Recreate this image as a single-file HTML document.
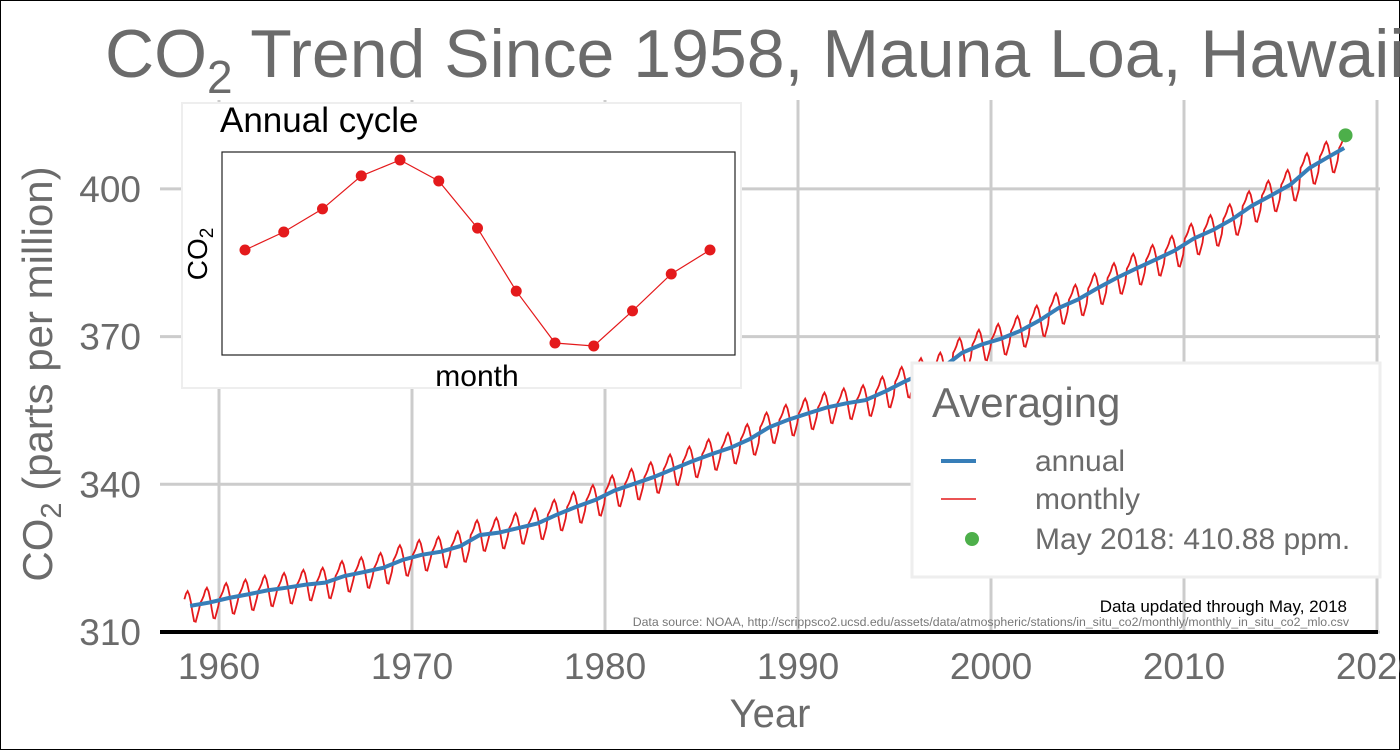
<!DOCTYPE html>
<html><head><meta charset="utf-8">
<style>
body{margin:0;background:#fff;}
svg{display:block;font-family:"Liberation Sans",Arial,sans-serif;}
</style></head>
<body>
<svg id="chart" width="1400" height="750" viewBox="0 0 1400 750">
<rect x="0.5" y="0.5" width="1399" height="749" fill="#fff" stroke="#000" stroke-width="1"/>
<g id="grid"></g>
<g id="series"></g>
<text x="105" y="77" font-size="68" fill="#6b6b6b">CO<tspan font-size="46" dy="16">2</tspan><tspan dy="-16"> Trend Since 1958, Mauna Loa, Hawaii</tspan></text>
<text transform="translate(52,374) rotate(-90)" text-anchor="middle" font-size="42" fill="#6b6b6b">CO<tspan font-size="29" dy="9">2</tspan><tspan dy="-9"> (parts per million)</tspan></text>
<text x="770" y="727" text-anchor="middle" font-size="40" fill="#6b6b6b">Year</text>
<g id="ticks"></g>
<text x="1347" y="612" text-anchor="end" font-size="17" fill="#000">Data updated through May, 2018</text>
<text x="1349" y="626" text-anchor="end" font-size="12.3" fill="#777">Data source: NOAA, http://scrippsco2.ucsd.edu/assets/data/atmospheric/stations/in_situ_co2/monthly/monthly_in_situ_co2_mlo.csv</text>
<line x1="160" y1="632" x2="1378" y2="632" stroke="#000" stroke-width="4"/>
<g>
<rect x="182" y="103" width="559" height="285" fill="#fff" stroke="#eee" stroke-width="2"/>
<text x="220" y="132" font-size="35" fill="#000">Annual cycle</text>
<rect x="222" y="152" width="513" height="203" fill="#fff" stroke="#222" stroke-width="1.2"/>
<text transform="translate(207,254) rotate(-90)" text-anchor="middle" font-size="28" fill="#000">CO<tspan font-size="19" dy="6">2</tspan></text>
<text x="477" y="386" text-anchor="middle" font-size="30" fill="#000">month</text>
<g id="inset-marks"></g>
</g>
<g>
<rect x="912" y="363" width="468" height="214" fill="#fff" stroke="#eee" stroke-width="3"/>
<text x="932" y="417" font-size="42" fill="#6b6b6b">Averaging</text>
<line x1="941" y1="461" x2="976" y2="461" stroke="#377eb8" stroke-width="4"/>
<text x="1035" y="471" font-size="30" fill="#6b6b6b">annual</text>
<line x1="941" y1="499" x2="976" y2="499" stroke="#e41a1c" stroke-width="1.5"/>
<text x="1035" y="509" font-size="30" fill="#6b6b6b">monthly</text>
<circle cx="972" cy="539" r="7" fill="#4daf4a"/>
<text x="1035" y="549" font-size="30" fill="#6b6b6b">May 2018: 410.88 ppm.</text>
</g>
</svg>
<script>
const years = [1958,1959,1960,1961,1962,1963,1964,1965,1966,1967,1968,1969,1970,1971,1972,1973,1974,1975,1976,1977,1978,1979,1980,1981,1982,1983,1984,1985,1986,1987,1988,1989,1990,1991,1992,1993,1994,1995,1996,1997,1998,1999,2000,2001,2002,2003,2004,2005,2006,2007,2008,2009,2010,2011,2012,2013,2014,2015,2016,2017,2018];
const annualMean = [315.3,315.97,316.91,317.64,318.45,318.99,319.62,320.04,321.38,322.16,323.04,324.62,325.68,326.32,327.45,329.68,330.18,331.11,332.04,333.83,335.40,336.84,338.75,340.11,341.45,343.05,344.65,346.12,347.42,349.19,351.57,353.12,354.39,355.61,356.45,357.10,358.83,360.82,362.61,363.73,366.70,368.38,369.55,371.14,373.28,375.80,377.52,379.80,381.90,383.79,385.60,387.43,389.90,391.65,393.85,396.52,398.65,400.83,404.24,406.55,408.3];
const seasonal = [0.0,0.6,1.37,2.47,3.0,2.3,0.73,-1.37,-3.1,-3.2,-2.03,-0.8];
const insetMonths = [1,2,3,4,5,6,7,8,9,10,11,12,13];
const insetValues = [0.0,0.6,1.37,2.47,3.0,2.3,0.73,-1.37,-3.1,-3.2,-2.03,-0.8,0.0];
const xTicks = [1960,1970,1980,1990,2000,2010,2020];
const xTickLabels = ["1960","1970","1980","1990","2000","2010","2020"];
const yTicks = [310,340,370,400];
const latestPoint = [2018.37, 410.88];

const NS="http://www.w3.org/2000/svg";
const x = v => 219 + (v-1960)*19.3;
const y = v => 632 - (v-310)*(147.7/30);
const ix = m => 245 + (m-1)*38.75;
const iy = v => 250 - v*30;
function mk(tag, attrs, parent){const e=document.createElementNS(NS,tag);for(const k in attrs)e.setAttribute(k,attrs[k]);parent.appendChild(e);return e;}

const grid=document.getElementById('grid');
xTicks.forEach(t=>{
  const l=mk('line',{x1:x(t),x2:x(t),y1:100,y2:632,stroke:'#cccccc','stroke-width':3},grid);
  
  
});
yTicks.forEach(t=>{
  const l=mk('line',{x1:160,x2:1380,y1:y(t),y2:y(t),stroke:'#cccccc','stroke-width':3},grid);
  
  
});
const ticks=document.getElementById('ticks');
xTicks.forEach((t,i)=>{
  const e=mk('text',{x:x(t),y:679,'text-anchor':'middle','font-size':37,fill:'#6b6b6b'},ticks);
  e.textContent=xTickLabels[i];
  
  
});
yTicks.forEach(t=>{
  const e=mk('text',{x:141,y:y(t)+13,'text-anchor':'end','font-size':37,fill:'#6b6b6b'},ticks);
  e.textContent=String(t);
  
  
});

const series=document.getElementById('series');
let mpts=[];
years.forEach((yr,i)=>{
  seasonal.forEach((s,m)=>{
    const t=yr+(m+0.5)/12;
    if(t<1958.2||t>2018.42)return;
    mpts.push(x(t).toFixed(1)+','+y(annualMean[i]+s).toFixed(1));
  });
});
const red=mk('polyline',{points:mpts.join(' '),fill:'none',stroke:'#e41a1c','stroke-width':1.8},series);


const apts=years.map((yr,i)=>x(Math.min(Math.max(yr+0.5,1958.3),2018.3)).toFixed(1)+','+y(annualMean[i]).toFixed(1));
const blue=mk('polyline',{points:apts.join(' '),fill:'none',stroke:'#377eb8','stroke-width':4},series);


const dot=mk('circle',{cx:x(latestPoint[0]),cy:y(latestPoint[1]),r:7,fill:'#4daf4a'},series);



const im=document.getElementById('inset-marks');
const il=mk('polyline',{points:insetMonths.map((m,i)=>ix(m)+','+iy(insetValues[i])).join(' '),fill:'none',stroke:'#e41a1c','stroke-width':1.2},im);


insetMonths.forEach((m,i)=>{
  const c=mk('circle',{cx:ix(m),cy:iy(insetValues[i]),r:5.5,fill:'#e41a1c'},im);
  
  
});
</script>
</body></html>
